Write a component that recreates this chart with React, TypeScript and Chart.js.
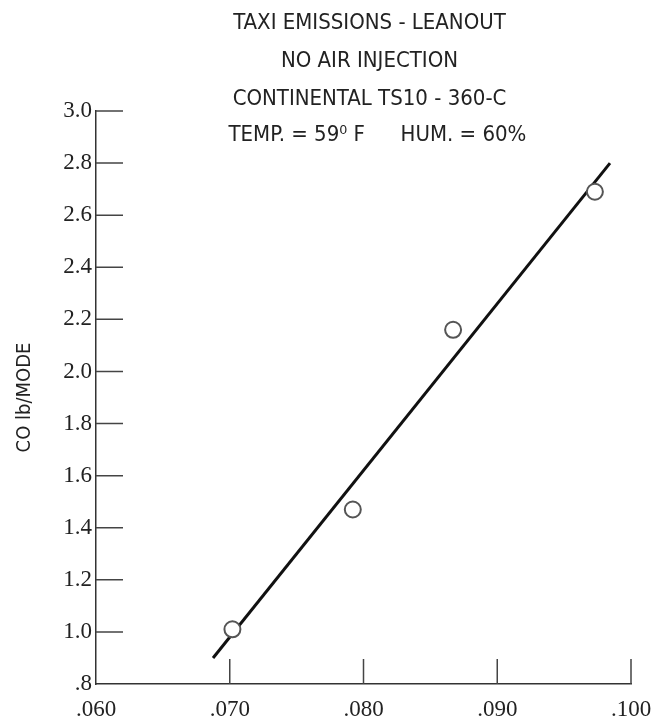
import React, { useEffect, useRef } from 'react';
import { Chart, registerables } from 'chart.js';

Chart.register(...registerables);

// ---- data ----
const titleLines = ['TAXI EMISSIONS - LEANOUT', 'NO AIR INJECTION', 'CONTINENTAL TS10 - 360-C'];
const conditionTemp = 'TEMP. = 59\u2070 F';
const conditionHum = 'HUM. = 60%';
const yAxisTitle = 'CO lb/MODE';

const fuelAirX = [0.0702, 0.0792, 0.0867, 0.0973];
const coLbPerMode = [1.01, 1.47, 2.16, 2.69];

const fitLineX = [0.06875, 0.09843];
const fitLineY = [0.9, 2.8];

const xTickValues = [0.06, 0.07, 0.08, 0.09, 0.1];
const xTickLabels = ['.060', '.070', '.080', '.090', '.100'];
const yTickValues = [0.8, 1.0, 1.2, 1.4, 1.6, 1.8, 2.0, 2.2, 2.4, 2.6, 2.8, 3.0];
const yTickLabels = ['.8', '1.0', '1.2', '1.4', '1.6', '1.8', '2.0', '2.2', '2.4', '2.6', '2.8', '3.0'];

const NARROW = '"Liberation Sans Narrow", "DejaVu Sans Condensed", "Open Sans", sans-serif';
const SERIF = '"Liberation Serif", "DejaVu Serif", serif';

const decorPlugin = {
  id: 'decor',
  beforeDatasetsDraw(chart: any) {
    const { ctx } = chart;
    const xs = chart.scales.x;
    const ys = chart.scales.y;
    ctx.save();
    ctx.strokeStyle = '#444';
    ctx.lineWidth = 1.5;
    ctx.beginPath();
    xTickValues.forEach((v, i) => {
      if (i === 0) return;
      const px = xs.getPixelForValue(v);
      ctx.moveTo(px, ys.bottom);
      ctx.lineTo(px, ys.bottom - 25);
    });
    yTickValues.forEach((v, i) => {
      if (i === 0) return;
      const py = ys.getPixelForValue(v);
      ctx.moveTo(xs.left, py);
      ctx.lineTo(xs.left + 27, py);
    });
    ctx.stroke();
    ctx.restore();
  },
  afterDraw(chart: any) {
    const { ctx, chartArea } = chart;
    const cx = (chartArea.left + chartArea.right) / 2 + 6;
    ctx.save();
    ctx.fillStyle = '#222';
    ctx.font = `22px ${NARROW}`;
    ctx.textAlign = 'center';
    ctx.textBaseline = 'middle';
    const offsets = [-88, -50, -12];
    titleLines.forEach((t, i) => ctx.fillText(t, cx, chartArea.top + offsets[i]));
    ctx.textAlign = 'left';
    ctx.fillText(conditionTemp, cx - 141, chartArea.top + 24);
    ctx.fillText(conditionHum, cx + 31, chartArea.top + 24);
    // y axis title
    ctx.font = `20px ${NARROW}`;
    ctx.textAlign = 'center';
    ctx.translate(25, (chartArea.top + chartArea.bottom) / 2);
    ctx.rotate(-Math.PI / 2);
    ctx.fillText(yAxisTitle, 0, 0);
    ctx.restore();
  },
};

export default function App() {
  const ref = useRef<HTMLCanvasElement | null>(null);
  useEffect(() => {
    if (!ref.current) return;
    const chart = new Chart(ref.current, {
      type: 'scatter',
      data: {
        datasets: [
          {
            type: 'scatter',
            data: fuelAirX.map((x, i) => ({ x, y: coLbPerMode[i] })),
            pointRadius: 8,
            pointBorderWidth: 2,
            borderColor: '#555',
            backgroundColor: '#fff',
            pointBackgroundColor: '#fff',
            pointBorderColor: '#555',
            order: 0,
          },
          {
            type: 'line',
            data: fitLineX.map((x, i) => ({ x, y: fitLineY[i] })),
            borderColor: '#111',
            borderWidth: 3,
            pointRadius: 0,
            showLine: true,
            fill: false,
            order: 1,
          },
        ],
      } as any,
      options: {
        animation: false,
        responsive: false,
        devicePixelRatio: 1,
        layout: { padding: { left: 0, top: 111, right: 21, bottom: 0 } },
        plugins: { legend: { display: false }, tooltip: { enabled: false }, title: { display: false } },
        scales: {
          x: {
            type: 'linear',
            min: 0.06,
            max: 0.1,
            afterBuildTicks: (s: any) => {
              s.ticks = xTickValues.map((v) => ({ value: v }));
            },
            afterFit: (s: any) => {
              s.height = 43;
              s.paddingLeft = 0;
              s.paddingRight = 0;
            },
            grid: { display: false, drawTicks: false },
            border: { display: true, color: '#333', width: 1.5 },
            ticks: {
              autoSkip: false,
              maxRotation: 0,
              padding: 12,
              color: '#222',
              font: { family: SERIF, size: 23 },
              callback: (_v: any, i: number) => xTickLabels[i],
            },
          },
          y: {
            type: 'linear',
            min: 0.8,
            max: 3.0,
            afterBuildTicks: (s: any) => {
              s.ticks = yTickValues.map((v) => ({ value: v }));
            },
            afterFit: (s: any) => {
              s.width = 96;
              s.paddingTop = 0;
              s.paddingBottom = 0;
            },
            grid: { display: false, drawTicks: false },
            border: { display: true, color: '#333', width: 1.5 },
            ticks: {
              autoSkip: false,
              padding: 4,
              color: '#222',
              font: { family: SERIF, size: 23 },
              callback: (_v: any, i: number) => yTickLabels[i],
            },
          },
        },
      },
      plugins: [decorPlugin],
    } as any);
    return () => chart.destroy();
  }, []);
  return (
    <div style={{ position: 'fixed', left: 0, top: 0, width: 652, height: 727, background: '#fff' }}>
      <canvas ref={ref} width={652} height={727} style={{ display: 'block' }} />
    </div>
  );
}
